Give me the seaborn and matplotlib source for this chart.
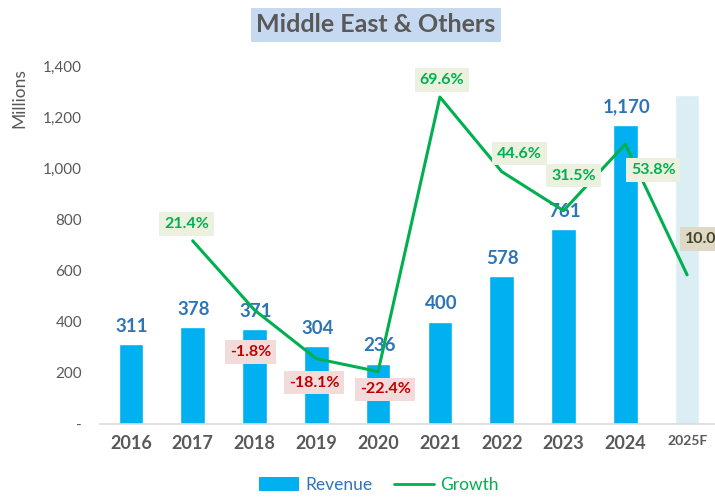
import matplotlib
matplotlib.use("Agg")
import matplotlib.pyplot as plt
from matplotlib.patches import Patch
from matplotlib.lines import Line2D
import numpy as np
import pandas as pd
import seaborn as sns

# Data
years = ["2016", "2017", "2018", "2019", "2020", "2021", "2022", "2023", "2024", "2025F"]
revenue = [311, 378, 371, 304, 236, 400, 578, 761, 1170, 1287]
growth_years = ["2017", "2018", "2019", "2020", "2021", "2022", "2023", "2024", "2025F"]
growth = [21.4, -1.8, -18.1, -22.4, 69.6, 44.6, 31.5, 53.8, 10.0]
y_ticks = [0, 200, 400, 600, 800, 1000, 1200, 1400]

sns.set_theme(style="white")
plt.rcParams["font.family"] = ["Lato", "DejaVu Sans"]

GRAY = "#595959"
BAR_BLUE = "#00B0F0"
FORECAST = "#DAEEF3"
LABEL_BLUE = "#2E75B6"
GREEN = "#00B050"

fig = plt.figure(figsize=(7.15, 4.98), dpi=100)
ax = fig.add_axes([100 / 715, 74 / 498, 618 / 715, 358 / 498])

df = pd.DataFrame({"year": years, "revenue": revenue})
bar_colors = [BAR_BLUE] * (len(years) - 1) + [FORECAST]
sns.barplot(data=df, x="year", y="revenue", hue="year", palette=bar_colors,
            width=0.40, saturation=1, legend=False, ax=ax)

ax.set_ylim(0, 1400)
ax.set_xlim(-0.5, len(years) - 0.5)
ax.set_xlabel("")
ax.set_ylabel("")
ax.set_yticks(y_ticks)
ax.set_yticklabels(["-" if t == 0 else f"{t:,}" for t in y_ticks],
                   fontsize=11, color=GRAY)
ax.set_xticks(range(len(years)))
ax.set_xticklabels(years, fontsize=13, fontweight="bold", color=GRAY)
ax.get_xticklabels()[-1].set_fontsize(10)
ax.tick_params(axis="y", length=0, pad=13)
ax.tick_params(axis="x", length=0, pad=8)
for s in ["top", "right", "left"]:
    ax.spines[s].set_visible(False)
ax.spines["bottom"].set_color("#D9D9D9")
ax.spines["bottom"].set_linewidth(1.2)
ax.grid(False)

# Revenue value labels (actual years only)
for i, v in enumerate(revenue[:-1]):
    ax.annotate(f"{v:,}", (i, v), xytext=(1, 18), textcoords="offset pixels",
                ha="center", va="center", color=LABEL_BLUE,
                fontsize=13.5, fontweight="bold")

# Growth line on a hidden secondary axis
ax2 = ax.twinx()
gdf = pd.DataFrame({"pos": [years.index(y) for y in growth_years], "growth": growth})
sns.lineplot(data=gdf, x="pos", y="growth", color=GREEN, linewidth=2.2, ax=ax2)
ax2.set_ylim(-40, 80)
ax2.set_xlim(-0.5, len(years) - 0.5)
ax2.axis("off")

label_offsets = {
    "2017": (-6, 17), "2018": (-4, -42), "2019": (-2, -24), "2020": (7, -18),
    "2021": (2, 17), "2022": (18, 18), "2023": (10, 35), "2024": (28, -26),
    "2025F": (20, 36),
}
for yr, g in zip(growth_years, growth):
    if yr.endswith("F"):
        fc, tc = "#DDD9C4", "#494429"
    elif g < 0:
        fc, tc = "#F2DCDB", "#C00000"
    else:
        fc, tc = "#EBF1DE", GREEN
    ax2.annotate(f"{g:.1f}%", (years.index(yr), g), xytext=label_offsets[yr],
                 textcoords="offset pixels", ha="center", va="center",
                 fontsize=11.5, fontweight="bold", color=tc,
                 bbox=dict(boxstyle="square,pad=0.3", fc=fc, ec="none"))

# Title
fig.text(376 / 715, 1 - 25 / 498, "Middle East & Others", ha="center", va="center",
         fontsize=18, fontweight="bold", color=GRAY,
         bbox=dict(boxstyle="square,pad=0.22", fc="#C6D9F1", ec="none"))

fig.text(19 / 715, 1 - 98 / 498, "Millions", rotation=90, ha="center", va="center",
         fontsize=12.5, color=GRAY)

handles = [Patch(facecolor=BAR_BLUE, edgecolor="none"),
           Line2D([0], [0], color=GREEN, linewidth=2)]
fig.legend(handles, ["Revenue", "Growth"], loc="center",
           bbox_to_anchor=(379 / 715, 1 - 485 / 498), ncol=2, frameon=False,
           fontsize=12.5, labelcolor=[LABEL_BLUE, GREEN], handlelength=2.3,
           handleheight=0.8, columnspacing=1.2, handletextpad=0.4)

fig.savefig("out.png", dpi=100)
